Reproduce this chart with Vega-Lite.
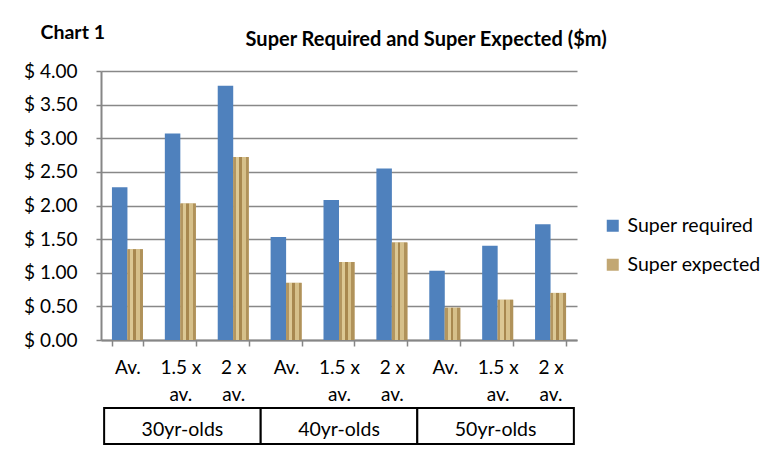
{
  "$schema": "https://vega.github.io/schema/vega-lite/v6.json",
  "padding": {"left": 23, "top": 22, "right": 5, "bottom": 5},
  "config": {
    "font": "Lato",
    "view": {"stroke": null},
    "axis": {"labelFont": "Lato", "labelColor": "#000000"},
    "legend": {"labelFont": "Lato"}
  },
  "title": {"text": "Chart 1", "anchor": "start", "dx": 17, "font": "Lato", "fontSize": 19.5, "fontWeight": "bold", "color": "#000000", "offset": -13},
  "spacing": 3,
  "vconcat": [
    {
      "width": 476,
      "height": 269,
      "title": {"text": "Super Required and Super Expected ($m)", "anchor": "start", "dx": 222, "font": "Lato", "fontSize": 20, "fontWeight": "bold", "color": "#000000", "offset": 12},
      "data": {"values": [
        {"key": "Av.~30", "group": "30yr-olds", "series": "Super required", "value": 2.27},
        {"key": "Av.~30", "group": "30yr-olds", "series": "Super expected", "value": 1.35},
        {"key": "1.5 x~av.~30", "group": "30yr-olds", "series": "Super required", "value": 3.07},
        {"key": "1.5 x~av.~30", "group": "30yr-olds", "series": "Super expected", "value": 2.03},
        {"key": "2 x~av.~30", "group": "30yr-olds", "series": "Super required", "value": 3.78},
        {"key": "2 x~av.~30", "group": "30yr-olds", "series": "Super expected", "value": 2.72},
        {"key": "Av.~40", "group": "40yr-olds", "series": "Super required", "value": 1.53},
        {"key": "Av.~40", "group": "40yr-olds", "series": "Super expected", "value": 0.85},
        {"key": "1.5 x~av.~40", "group": "40yr-olds", "series": "Super required", "value": 2.08},
        {"key": "1.5 x~av.~40", "group": "40yr-olds", "series": "Super expected", "value": 1.16},
        {"key": "2 x~av.~40", "group": "40yr-olds", "series": "Super required", "value": 2.55},
        {"key": "2 x~av.~40", "group": "40yr-olds", "series": "Super expected", "value": 1.45},
        {"key": "Av.~50", "group": "50yr-olds", "series": "Super required", "value": 1.03},
        {"key": "Av.~50", "group": "50yr-olds", "series": "Super expected", "value": 0.48},
        {"key": "1.5 x~av.~50", "group": "50yr-olds", "series": "Super required", "value": 1.4},
        {"key": "1.5 x~av.~50", "group": "50yr-olds", "series": "Super expected", "value": 0.6},
        {"key": "2 x~av.~50", "group": "50yr-olds", "series": "Super required", "value": 1.72},
        {"key": "2 x~av.~50", "group": "50yr-olds", "series": "Super expected", "value": 0.7}
      ]},
      "encoding": {
        "x": {
          "field": "key", "type": "nominal", "sort": null,
          "scale": {"paddingInner": 0.414, "paddingOuter": 0.207},
          "axis": {
            "title": null, "labelAngle": 0, "labelFontSize": 19, "labelPadding": 12,
            "labelLineHeight": 27, "labelBaseline": "top",
            "labelExpr": "slice(split(datum.label, '~'), 0, -1)",
            "tickBand": "extent", "tickSize": 6, "tickColor": "#868686", "tickWidth": 1.5,
            "domainColor": "#868686", "domainWidth": 2, "grid": false
          }
        },
        "xOffset": {"field": "series", "type": "nominal", "sort": ["Super required", "Super expected"]},
        "y": {
          "field": "value", "type": "quantitative",
          "scale": {"domain": [0, 4], "nice": false},
          "axis": {
            "title": null, "values": [0, 0.5, 1, 1.5, 2, 2.5, 3, 3.5, 4],
            "labelExpr": "'$ ' + format(datum.value, '.2f')",
            "labelFontSize": 19, "labelPadding": 19, "tickSize": 5,
            "tickColor": "#868686", "tickWidth": 1.5,
            "domainColor": "#868686", "domainWidth": 2,
            "gridColor": "#888888", "gridWidth": 1.5
          }
        }
      },
      "layer": [
        {
          "mark": {"type": "bar"},
          "encoding": {
            "color": {
              "field": "series", "type": "nominal",
              "scale": {"domain": ["Super required", "Super expected"], "range": ["#4F81BD", "#C2A773"]},
              "legend": {
                "title": null, "orient": "none", "legendX": 502, "legendY": 145,
                "symbolType": "square", "symbolSize": 144, "symbolStrokeWidth": 0,
                "labelFontSize": 19.5, "labelOffset": 5, "rowPadding": 18, "padding": 0
              }
            }
          }
        },
        {
          "transform": [{"filter": "datum.series == 'Super expected'"}],
          "mark": {
            "type": "bar",
            "color": {
              "gradient": "linear", "x1": 0, "y1": 0, "x2": 1, "y2": 0,
              "stops": [
                {"offset": 0, "color": "#B39660"},
                {"offset": 0.18, "color": "#B39660"},
                {"offset": 0.18, "color": "#DCC894"},
                {"offset": 0.38, "color": "#DCC894"},
                {"offset": 0.38, "color": "#A8884F"},
                {"offset": 0.55, "color": "#A8884F"},
                {"offset": 0.55, "color": "#D6C08A"},
                {"offset": 0.8, "color": "#D6C08A"},
                {"offset": 0.8, "color": "#B0925A"},
                {"offset": 1, "color": "#B0925A"}
              ]
            }
          }
        }
      ]
    },
    {
      "width": 476,
      "height": 36,
      "data": {"values": [
        {"group": "30yr-olds"},
        {"group": "40yr-olds"},
        {"group": "50yr-olds"}
      ]},
      "encoding": {
        "x": {"field": "group", "type": "nominal", "sort": null, "scale": {"paddingInner": 0, "paddingOuter": 0.02}, "axis": null}
      },
      "layer": [
        {"mark": {"type": "rect", "fill": "#ffffff", "stroke": "#000000", "strokeWidth": 2}},
        {"mark": {"type": "text", "font": "Lato", "fontSize": 19.5, "color": "#000000", "dy": 4}, "encoding": {"text": {"field": "group"}}}
      ]
    }
  ]
}
